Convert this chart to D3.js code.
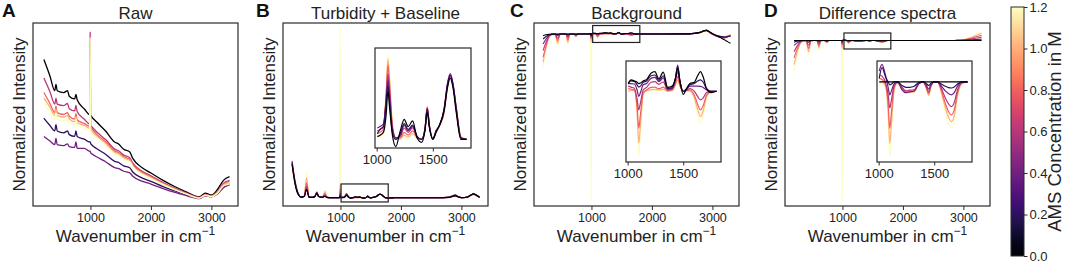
<!DOCTYPE html>
<html>
<head>
<meta charset="utf-8">
<script src="https://cdn.jsdelivr.net/npm/d3@7"></script>
<style>
  body { margin: 0; background: #fff; }
  svg text { font-family: "Liberation Sans", Arial, Helvetica, sans-serif; }
</style>
</head>
<body>
<svg id="fig" width="1065" height="263"></svg>
<script>
// ---------- data ----------
const concentrations = [0, 0.2, 0.4, 0.6, 0.8, 1.0, 1.2];   // AMS concentration in M
const colorTicks = [0, 0.2, 0.4, 0.6, 0.8, 1.0, 1.2];
const xTicks = [1000, 2000, 3000];
const insetTicks = [1000, 1500];

// raw spectra (panel A)
const wnRaw = [230, 330, 410, 430, 450, 560, 620, 650, 740, 760, 780, 900, 985, 995, 1005, 1015, 1100, 1250, 1400, 1460,
  1550, 1650, 1700, 1850, 2000, 2200, 2400, 2600, 2800, 2900, 3000, 3100, 3200, 3300];
const raw0  = [80, 71, 63, 66.5, 63, 62, 63, 60, 58.5, 61, 58, 53, 50, 50, 49.5, 49, 46, 41, 35, 34, 31, 29.5, 26, 21, 18, 14, 10.5, 7.5, 5, 7, 6, 9, 14, 16];
const raw02 = [48, 44, 41, 44.5, 41, 40, 41, 39, 38, 41, 38, 36.5, 35, 35, 34, 33.6, 31.4, 28.3, 24.4, 23.8, 21.9, 20.9, 18.6, 15.4, 13.5, 10.6, 8.2, 6, 4.3, 6, 5.2, 7, 10.5, 12];
const raw04 = [38, 35.5, 33.5, 37, 33.5, 33, 34, 32.5, 32, 35, 31.5, 31.5, 30, 30, 29, 28.7, 26.9, 24.2, 21, 20.5, 19, 18.1, 16.3, 13.6, 12, 9.5, 7.4, 5.5, 4, 5.6, 5, 6.5, 10, 11.5];
const raw06 = [70, 62.5, 55.7, 59, 55.7, 54.9, 56, 53.2, 52, 55, 51.6, 47.4, 44.8, 95, 44, 43.6, 40.6, 36.3, 31.1, 30.3, 27.8, 26.4, 23.4, 19.1, 16.5, 12.8, 9.6, 6.9, 4.6, 6.4, 5.6, 8, 12.5, 14];
const raw08 = [62, 56, 51, 54.5, 51, 50, 51, 49, 47.5, 50.5, 47, 45, 43.5, 43.5, 43, 42.5, 39.2, 35.1, 30, 29.3, 26.9, 25.5, 22.6, 18.5, 16, 12.4, 9.3, 6.7, 4.5, 6.2, 5.5, 7.6, 12, 13.5];
const raw10 = [59, 54, 49.5, 53, 49.5, 48.5, 49.5, 47.5, 46, 49, 45.5, 44, 42.5, 42.5, 42, 41.5, 38.3, 34.2, 29.3, 28.5, 26.2, 24.9, 22, 17.9, 15.5, 12.1, 9.1, 6.5, 4.4, 6, 5.3, 7.3, 11.5, 12.8];
const raw12 = [56, 51.5, 47.5, 51, 47.5, 46.5, 47.5, 45.5, 44.5, 47.5, 44, 42.5, 41, 92, 40.6, 40, 37.3, 33.4, 28.5, 27.8, 25.5, 24.2, 21.4, 17.4, 15, 11.7, 8.8, 6.3, 4.3, 5.8, 5.1, 7, 11, 12];

// processed spectra (panels B, C, D)
const wnSpec = [200, 250, 300, 350, 400, 440, 480, 540, 580, 610, 640, 700, 745, 775, 850, 940, 985, 995, 1005,
  1030, 1060, 1085, 1100, 1115, 1140, 1170, 1210, 1245, 1280, 1320, 1360, 1400, 1430, 1450, 1470, 1500, 1530, 1560, 1600, 1630, 1655, 1680, 1710, 1750, 1800,
  1900, 2200, 2600, 2800, 2850, 2900, 2950, 3000, 3100, 3150, 3200, 3250, 3300];

const turb0  = [20, 8, 2, 0.5, 0.8, 5, 0.5, 0.3, 1, 2.8, 0.8, 0.4, 1, 0.3, 0.2, 0.2, 0.2, 1, 0.1,
  0.15, 0.25, 0.9, 1.7, 1.1, 0.15, -0.25, 0.3, 0.7, 0.45, 0.65, 0.05, -0.1, 0.3, 0.95, 0.4, 0, 0.25, 0.5, 1, 1.8, 2.15, 1.8, 0.9, 0, 0,
  0.1, 0.1, 0.1, 0.3, 0.8, 1.2, 0.5, 0.2, 0.4, 1.5, 2.4, 1.6, 0.4];
const turb02 = [21, 9, 2.5, 0.5, 0.8, 5, 0.5, 0.3, 1, 3, 0.8, 0.4, 1, 0.3, 0.2, 0.2, 0.2, 1.5, 0.2,
  0.35, 0.45, 1.3, 1.9, 1.3, 0.25, 0, 0.2, 0.55, 0.35, 0.5, 0.1, 0, 0.35, 1.05, 0.45, 0.02, 0.3, 0.5, 1.05, 1.9, 2.25, 1.9, 1, 0.05, 0,
  0.1, 0.1, 0.1, 0.3, 1, 1.5, 0.7, 0.2, 0.5, 1.6, 2.3, 1.5, 0.4];
const turb04 = [22, 10, 3, 0.5, 0.8, 5.5, 0.5, 0.3, 1, 3, 0.8, 0.4, 1.2, 0.3, 0.2, 0.2, 0.2, 2, 0.4,
  0.45, 0.55, 1.4, 2.1, 1.5, 0.35, 0.05, 0.15, 0.5, 0.3, 0.45, 0.1, 0, 0.35, 1.1, 0.45, 0.02, 0.3, 0.5, 1.05, 1.95, 2.3, 1.95, 1.05, 0.05, 0,
  0.1, 0.1, 0.1, 0.5, 1.3, 1.8, 0.8, 0.2, 0.6, 1.6, 2.2, 1.5, 0.4];
const turb06 = [21, 9, 2.5, 0.5, 0.9, 7, 0.6, 0.3, 1.1, 3.2, 0.8, 0.4, 1.8, 0.3, 0.2, 0.2, 0.2, 3, 0.3,
  0.35, 0.45, 1.5, 2.3, 1.7, 0.4, 0.05, 0.1, 0.4, 0.25, 0.4, 0.1, 0, 0.35, 1.1, 0.45, 0.02, 0.3, 0.5, 1, 1.9, 2.25, 1.9, 1.05, 0.05, 0,
  0.1, 0.1, 0.1, 0.4, 1.2, 1.6, 0.7, 0.2, 0.6, 1.7, 2.5, 1.7, 0.5];
const turb08 = [20, 9, 2.5, 0.5, 1.1, 9, 0.7, 0.3, 1.2, 3.5, 0.8, 0.4, 2.8, 0.3, 0.2, 0.2, 0.2, 5, 0.2,
  0.25, 0.35, 1.6, 2.6, 1.9, 0.45, 0.05, 0.05, 0.25, 0.15, 0.3, 0.08, 0, 0.38, 1.12, 0.48, 0.02, 0.3, 0.5, 0.95, 1.85, 2.2, 1.9, 1.05, 0.08, 0,
  0.1, 0.1, 0.1, 0.3, 1, 1.3, 0.6, 0.2, 0.5, 1.6, 2.4, 1.6, 0.4];
const turb10 = [19, 8, 2.5, 0.5, 1.3, 12, 0.8, 0.3, 1.3, 3.8, 0.8, 0.4, 3.8, 0.3, 0.2, 0.2, 0.2, 8, 0.1,
  0.15, 0.25, 1.7, 2.8, 2.1, 0.5, 0.05, 0.02, 0.15, 0.08, 0.2, 0.05, 0, 0.4, 1.15, 0.5, 0.02, 0.3, 0.48, 0.92, 1.8, 2.15, 1.85, 1.1, 0.1, 0,
  0.1, 0.1, 0.1, 0.3, 0.8, 1, 0.5, 0.2, 0.4, 1.3, 1.9, 1.3, 0.3];
const turb12 = [18, 8, 2.5, 0.5, 1.5, 15, 1, 0.3, 1.5, 4, 0.8, 0.4, 4.8, 0.3, 0.2, 0.2, 0.2, 100, 0.05,
  0.1, 0.2, 1.8, 3, 2.3, 0.55, 0.05, 0, 0.1, 0.05, 0.15, 0.05, 0, 0.42, 1.2, 0.52, 0.02, 0.3, 0.45, 0.9, 1.75, 2.1, 1.85, 1.15, 0.12, 0,
  0.1, 0.1, 0.1, 0.3, 0.6, 0.8, 0.4, 0.2, 0.3, 1, 1.5, 1, 0.3];

const bg0  = [-1, -0.5, -0.2, 0, 0, 0, 0, 0, 0, 0, 0, 0, 0, 0, 0, 0, 0.2, -0.5, 0.3,
  0.44, 0.4, 0.35, 0.3, 0.32, 0.4, 0.45, 0.7, 0.76, 0.48, 0.74, 0.15, 0.2, 0.5, 0.89, 0.4, -0.12, 0.1, 0.3, 0.35, 0.6, 0.76, 0.55, 0.1, -0.05, 0,
  0, 0, 0.1, 1, 1.8, 2.2, 1.4, 0.3, -1.5, -2.5, -3.5, -4.6, -5.6];
const bg02 = [-3, -1.5, -0.4, 0, 0, -0.3, 0, 0, 0, -0.2, 0, 0, -0.1, 0, 0, 0, 0.2, -1, 0.3,
  0.4, 0.38, 0.25, 0.16, 0.2, 0.35, 0.4, 0.6, 0.63, 0.42, 0.6, 0.1, 0.15, 0.5, 0.95, 0.4, 0, 0.1, 0.25, 0.3, 0.4, 0.44, 0.35, 0.1, 0, 0,
  0, 0, 0.1, 1, 1.8, 2.2, 1.3, 0.2, -1.2, -1.6, -1.8, -1.5, -1.2];
const bg04 = [-6, -3, -0.8, -0.1, 0, -1, 0, 0, 0, -0.8, 0, 0, -0.3, 0, 0, 0, 0.2, -1.5, 0.3,
  0.3, 0.28, 0.05, -0.2, -0.05, 0.25, 0.3, 0.5, 0.54, 0.37, 0.52, 0.08, 0.12, 0.5, 1.01, 0.4, 0, 0.08, 0.2, 0.2, 0.2, 0.19, 0.15, 0.05, 0, 0,
  0, 0, 0.1, 1, 1.8, 2.3, 1.3, 0, -1.4, -1.8, -2, -1.6, -1.2];
const bg06 = [-10, -5, -1.2, -0.2, -0.2, -2.5, -0.2, 0, -0.1, -2, -0.1, 0, -0.8, 0, 0, 0, 0.1, -2, 0.2,
  0.16, 0.12, -0.3, -0.72, -0.45, 0.05, 0.15, 0.35, 0.37, 0.27, 0.36, 0.05, 0.08, 0.4, 0.76, 0.3, 0, 0.05, 0.1, 0, -0.2, -0.33, -0.25, -0.05, 0, 0,
  0, 0, 0.1, 1, 1.9, 2.4, 1.2, -0.2, -1.8, -2.2, -2.4, -1.8, -1];
const bg08 = [-14, -7, -1.6, -0.3, -0.3, -4, -0.3, 0, -0.2, -3.5, -0.2, 0, -1.2, 0, 0, 0, 0, -3, 0.1,
  0.08, 0.05, -0.6, -1.42, -0.9, -0.05, 0.05, 0.15, 0.16, 0.1, 0.16, 0.02, 0.05, 0.3, 0.57, 0.25, 0, 0.03, 0.05, -0.15, -0.5, -0.72, -0.55, -0.15, 0, 0,
  0, 0, 0.1, 0.9, 1.7, 2.2, 1, -0.2, -1.6, -2, -2.1, -1.5, -0.8];
const bg10 = [-17, -8, -2, -0.4, -0.4, -5.5, -0.4, 0, -0.3, -5, -0.3, 0, -1.6, 0, 0, 0, 0, -5, 0,
  0.03, 0.02, -0.8, -2, -1.3, -0.1, 0.02, 0.06, 0.08, 0.05, 0.08, 0, 0.03, 0.25, 0.44, 0.2, 0, 0.02, 0.02, -0.25, -0.7, -0.98, -0.75, -0.2, 0, 0,
  0, 0, 0.1, 0.8, 1.5, 1.9, 0.8, -0.1, -1.2, -1.5, -1.6, -1.1, -0.5];
const bg12 = [-20, -9, -2.4, -0.5, -0.5, -7, -0.5, 0, -0.3, -6.5, -0.3, 0, -2, 0, 0, 0, 0, -100, 0,
  0, 0, -1, -2.51, -1.6, -0.15, 0, 0.02, 0.04, 0.03, 0.04, 0, 0.02, 0.2, 0.31, 0.15, 0, 0.01, 0, -0.3, -0.9, -1.23, -0.95, -0.25, 0, 0,
  0, 0, 0.1, 0.6, 1.2, 1.5, 0.6, 0, -0.8, -1, -1, -0.7, -0.3];

const diff0  = [0, 0, 0, 0, 0, 0, 0, 0, 0, 0, 0, 0, 0, 0, 0, 0, 0, 0, 0,
  0, 0, 0, 0, 0, 0, 0, 0, 0, 0, 0, 0, 0, 0, 0, 0, 0, 0, 0, 0, 0, 0, 0, 0, 0, 0,
  0, 0, 0, 0, 0, 0, 0, 0, 0, 0, 0, 0, 0];
const diff02 = [-1, -0.5, -0.1, 0, 0, -0.3, 0, 0, 0, -0.2, 0, 0, -0.1, 0, 0, 0, 0, -0.5, 0.1,
  0.4, 0.16, 0, -0.08, -0.06, 0, 0, -0.1, -0.15, -0.15, -0.12, -0.02, 0, -0.05, -0.1, -0.04, 0, 0, -0.05, -0.12, -0.16, -0.17, -0.14, -0.06, 0, 0,
  0, 0, 0, 0, 0, 0, 0, 0, 0.1, 0.15, 0.2, 0.25, 0.3];
const diff04 = [-3, -1.5, -0.4, 0, 0, -1.2, 0, 0, 0, -0.8, 0, 0, -0.3, 0, 0, 0, 0, -1, 0.3,
  0.49, 0.2, -0.15, -0.36, -0.25, -0.05, 0, -0.22, -0.3, -0.28, -0.26, -0.05, 0, -0.1, -0.2, -0.08, 0, 0, -0.1, -0.25, -0.33, -0.36, -0.3, -0.12, 0, 0,
  0, 0, 0, 0, 0, 0.1, 0.1, 0.1, 0.3, 0.45, 0.6, 0.75, 0.9];
const diff06 = [-7, -3.5, -1, -0.1, -0.1, -3, -0.1, 0, -0.1, -2, -0.1, 0, -0.6, 0, 0, 0, 0, -2, 0.2,
  0.16, 0, -0.35, -0.73, -0.5, -0.1, 0, -0.15, -0.25, -0.23, -0.22, -0.05, 0, -0.14, -0.28, -0.1, 0, 0, -0.15, -0.45, -0.62, -0.69, -0.58, -0.22, -0.02, 0,
  0, 0, 0, 0, 0, 0.1, 0.2, 0.3, 0.7, 1.05, 1.4, 1.75, 2.1];
const diff08 = [-11, -5.5, -1.5, -0.2, -0.2, -5, -0.2, 0, -0.2, -3.4, -0.2, 0, -1, 0, 0, 0, 0, -3, 0.1,
  0.07, -0.05, -0.6, -1.3, -0.85, -0.15, -0.02, -0.17, -0.28, -0.26, -0.24, -0.05, 0, -0.17, -0.33, -0.12, 0, 0, -0.2, -0.6, -0.84, -0.92, -0.78, -0.3, -0.03, 0,
  0, 0, 0, 0, 0, 0.1, 0.2, 0.4, 1.1, 1.6, 2.2, 2.7, 3.3];
const diff10 = [-15, -7.5, -2, -0.3, -0.3, -7, -0.3, 0, -0.3, -4.7, -0.3, 0, -1.3, 0, 0, 0, 0, -5, 0,
  0, -0.1, -0.8, -1.72, -1.15, -0.2, -0.03, -0.2, -0.3, -0.29, -0.27, -0.06, 0, -0.19, -0.38, -0.14, 0, 0, -0.25, -0.72, -1, -1.11, -0.95, -0.37, -0.04, 0,
  0, 0, 0, 0, 0, 0.1, 0.3, 0.5, 1.5, 2.2, 3, 3.7, 4.5];
const diff12 = [-19, -9.5, -2.5, -0.4, -0.4, -9, -0.4, 0, -0.4, -6, -0.4, 0, -1.6, 0, 0, 0, 0, -100, -0.1,
  -0.02, -0.15, -1, -2.1, -1.4, -0.25, -0.04, -0.22, -0.33, -0.32, -0.3, -0.07, 0, -0.22, -0.42, -0.16, 0, 0, -0.3, -0.85, -1.18, -1.3, -1.12, -0.45, -0.05, 0,
  0, 0, 0, 0, 0, 0.1, 0.3, 0.6, 1.8, 2.7, 3.6, 4.5, 5.4];

// ---------- layout ----------
const svg = d3.select("#fig");
const defs = svg.append("defs");
const frameTop = 23, frameBottom = 206, frameW = 205;
const xDomain = [50, 3440];
const insetDomain = [985, 1840];
const ink = "#2b2b2b";
const colorOf = c => d3.interpolateMagma(c / 1.2);

const panels = [
  { key: "A", letterX: 2, title: "Raw", left: 33, wn: wnRaw,
    series: [raw0, raw02, raw04, raw06, raw08, raw10, raw12], yDomain: [0, 100], lw: 1.3, blackOnTop: false },
  { key: "B", letterX: 256, title: "Turbidity + Baseline", left: 283, wn: wnSpec,
    series: [turb0, turb02, turb04, turb06, turb08, turb10, turb12], yDomain: [-4.8, 104], lw: 1.1, blackOnTop: true,
    inset: { left: 375, top: 48, w: 96, h: 100, yDomain: [-0.3, 3.2] }, box: [1010, 1790, -2.4, 8.3] },
  { key: "C", letterX: 510, title: "Background", left: 534, wn: wnSpec,
    series: [bg0, bg02, bg04, bg06, bg08, bg10, bg12], yDomain: [-103.6, 6.63], lw: 1.1, blackOnTop: true,
    inset: { left: 626, top: 61, w: 95, h: 101, yDomain: [-2.73, 1.17] }, box: [1020, 1800, -5.1, 5.1] },
  { key: "D", letterX: 764, title: "Difference spectra", left: 785, wn: wnSpec,
    series: [diff0, diff02, diff04, diff06, diff08, diff10, diff12], yDomain: [-103.4, 10.94], lw: 1.1, blackOnTop: true,
    inset: { left: 877, top: 61, w: 95, h: 101, yDomain: [-2.24, 0.585] }, box: [1025, 1800, -5.3, 4.7] }
];

function drawLines(g, p, x, y, clipId, lw, filter) {
  const line = d3.line().x(d => x(d[0])).y(d => y(d[1])).curve(d3.curveMonotoneX);
  let idx = concentrations.map((c, i) => i);
  if (p.blackOnTop) idx = idx.reverse();
  g.append("g").attr("clip-path", `url(#${clipId})`)
    .selectAll("path")
    .data(idx)
    .enter()
    .append("path")
    .attr("fill", "none")
    .attr("stroke", i => colorOf(concentrations[i]))
    .attr("stroke-width", lw)
    .attr("stroke-linejoin", "round")
    .attr("d", i => line(p.series[i].map((v, k) => [p.wn[k], v]).filter(filter)));
}

function styleAxis(a, size) {
  a.select(".domain").remove();
  a.attr("font-size", size)
    .attr("font-family", "'Liberation Sans', Arial, Helvetica, sans-serif")
    .attr("color", ink);
  a.selectAll("text").attr("fill", "#222");
}

panels.forEach(p => {
  const g = svg.append("g");
  const x = d3.scaleLinear().domain(xDomain).range([p.left, p.left + frameW]);
  const y = d3.scaleLinear().domain(p.yDomain).range([frameBottom, frameTop]);

  defs.append("clipPath").attr("id", `clip-${p.key}`)
    .append("rect").attr("x", p.left).attr("y", frameTop)
    .attr("width", frameW).attr("height", frameBottom - frameTop);

  drawLines(g, p, x, y, `clip-${p.key}`, p.lw, () => true);

  // zoom box in the main axes
  if (p.box) {
    const [w0, w1, v0, v1] = p.box;
    g.append("rect")
      .attr("x", x(w0)).attr("y", y(v1))
      .attr("width", x(w1) - x(w0)).attr("height", y(v0) - y(v1))
      .attr("fill", "none").attr("stroke", "#222").attr("stroke-width", 1.2);
  }

  // frame
  g.append("rect")
    .attr("x", p.left).attr("y", frameTop)
    .attr("width", frameW).attr("height", frameBottom - frameTop)
    .attr("fill", "none").attr("stroke", ink).attr("stroke-width", 1.2);

  g.append("g")
    .attr("transform", `translate(0, ${frameBottom})`)
    .call(d3.axisBottom(x).tickValues(xTicks).tickSize(4).tickPadding(3).tickFormat(d3.format("d")))
    .call(a => styleAxis(a, 12.5));

  // inset
  if (p.inset) {
    const ins = p.inset;
    const xi = d3.scaleLinear().domain(insetDomain).range([ins.left, ins.left + ins.w]);
    const yi = d3.scaleLinear().domain(ins.yDomain).range([ins.top + ins.h, ins.top]);
    g.append("rect")
      .attr("x", ins.left).attr("y", ins.top).attr("width", ins.w).attr("height", ins.h)
      .attr("fill", "#fff");
    defs.append("clipPath").attr("id", `clip-${p.key}-inset`)
      .append("rect").attr("x", ins.left).attr("y", ins.top).attr("width", ins.w).attr("height", ins.h);
    drawLines(g, p, xi, yi, `clip-${p.key}-inset`, 1.2, d => d[0] >= 1005 && d[0] <= 1800);
    g.append("rect")
      .attr("x", ins.left).attr("y", ins.top).attr("width", ins.w).attr("height", ins.h)
      .attr("fill", "none").attr("stroke", ink).attr("stroke-width", 1.2);
    g.append("g")
      .attr("transform", `translate(0, ${ins.top + ins.h})`)
      .call(d3.axisBottom(xi).tickValues(insetTicks).tickSize(3.5).tickPadding(3).tickFormat(d3.format("d")))
      .call(a => styleAxis(a, 13));
  }

  // labels
  g.append("text")
    .attr("x", p.left + frameW / 2).attr("y", 19)
    .attr("text-anchor", "middle").attr("font-size", 17).attr("fill", "#222")
    .text(p.title);

  g.append("text")
    .attr("x", p.letterX).attr("y", 17)
    .attr("font-size", 19).attr("font-weight", "bold").attr("fill", "#111")
    .text(p.key);

  g.append("text")
    .attr("transform", `translate(${p.left - 8}, ${(frameTop + frameBottom) / 2}) rotate(-90)`)
    .attr("text-anchor", "middle").attr("font-size", 17).attr("fill", "#222")
    .text("Normalized Intensity");

  const xl = g.append("text")
    .attr("x", p.left + frameW / 2).attr("y", 242)
    .attr("text-anchor", "middle").attr("font-size", 17).attr("fill", "#222");
  xl.append("tspan").text("Wavenumber in cm");
  xl.append("tspan").attr("font-size", 12).attr("dy", -7).text("\u22121");
});

// ---------- colorbar ----------
const cbTop = 7, cbBottom = 256, cbX = 1011, cbW = 13;
const cbY = d3.scaleLinear().domain([0, 1.2]).range([cbBottom, cbTop]);
const grad = defs.append("linearGradient").attr("id", "magma")
  .attr("x1", 0).attr("y1", 1).attr("x2", 0).attr("y2", 0);
d3.range(0, 1.0001, 0.05).forEach(t => {
  grad.append("stop").attr("offset", t).attr("stop-color", d3.interpolateMagma(t));
});
svg.append("rect")
  .attr("x", cbX).attr("y", cbTop).attr("width", cbW).attr("height", cbBottom - cbTop)
  .attr("fill", "url(#magma)").attr("stroke", ink).attr("stroke-width", 1);
svg.append("g")
  .attr("transform", `translate(${cbX + cbW}, 0)`)
  .call(d3.axisRight(cbY).tickValues(colorTicks).tickSize(3.5).tickPadding(2).tickFormat(d3.format(".1f")))
  .call(a => styleAxis(a, 13));
svg.append("text")
  .attr("transform", `translate(1061, ${(cbTop + cbBottom) / 2}) rotate(-90)`)
  .attr("text-anchor", "middle").attr("font-size", 18.5).attr("fill", "#222")
  .text("AMS Concentration in M");
</script>
</body>
</html>
